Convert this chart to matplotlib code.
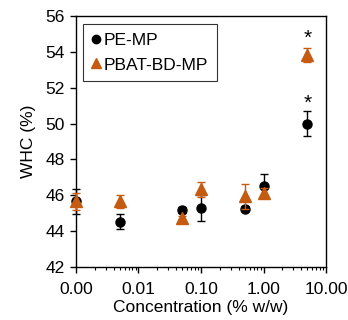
import matplotlib
matplotlib.use("Agg")
import matplotlib.pyplot as plt
from matplotlib.lines import Line2D
from matplotlib.ticker import FixedLocator, LogLocator, NullFormatter

plt.rcParams['font.family'] = ['Liberation Sans', 'DejaVu Sans']

conc = [0.001, 0.005, 0.05, 0.1, 0.5, 1.0, 5.0]
pe_mean = [45.65, 44.53, 45.18, 45.27, 45.25, 46.53, 49.98]
pe_err = [0.70, 0.40, 0.15, 0.72, 0.12, 0.67, 0.70]
pbat_mean = [45.65, 45.66, 44.73, 46.32, 45.94, 46.15, 53.82]
pbat_err = [0.50, 0.35, 0.10, 0.40, 0.70, 0.25, 0.38]
xtick_vals = [0.001, 0.01, 0.1, 1, 10]
xtick_labels = ["0.00", "0.01", "0.10", "1.00", "10.00"]
star_x = [5.0, 5.0]
star_y = [54.75, 51.15]

orange = '#C55A11'
fs = 12.5

fig = plt.figure(figsize=(3.48, 3.2), dpi=100)
ax = fig.add_axes([0.218, 0.166, 0.719, 0.784])

ax.errorbar(conc, pe_mean, yerr=pe_err, fmt='o', color='black', ms=6.5,
            ecolor='black', elinewidth=1, capsize=3, capthick=1, clip_on=False, zorder=3)
ax.errorbar(conc, pbat_mean, yerr=pbat_err, fmt='^', color=orange, ms=8,
            ecolor=orange, elinewidth=1, capsize=3, capthick=1, clip_on=False, zorder=4)

for x, y in zip(star_x, star_y):
    ax.text(x, y, '*', ha='center', va='center', fontsize=15)

ax.set_xscale('log')
ax.set_xlim(0.001, 10)
ax.set_ylim(42, 56)
ax.xaxis.set_major_locator(FixedLocator(xtick_vals))
ax.set_xticklabels(xtick_labels)
ax.xaxis.set_minor_locator(LogLocator(base=10, subs=range(2, 10), numticks=20))
ax.xaxis.set_minor_formatter(NullFormatter())
ax.set_yticks(range(42, 57, 2))

ax.tick_params(axis='both', which='major', direction='out', length=4, width=1,
               labelsize=fs, colors='black')
ax.tick_params(axis='x', which='major', pad=7)
ax.tick_params(axis='y', which='major', pad=4)
ax.tick_params(axis='x', which='minor', direction='out', length=2.5, width=0.8)
for s in ax.spines.values():
    s.set_linewidth(1)
    s.set_color('black')

ax.set_xlabel('Concentration (% w/w)', fontsize=fs, labelpad=2)
ax.set_ylabel('WHC (%)', fontsize=fs, labelpad=7)

handles = [Line2D([], [], marker='o', color='black', ls='none', ms=6),
           Line2D([], [], marker='^', color=orange, ls='none', ms=7)]
leg = ax.legend(handles, ['PE-MP', 'PBAT-BD-MP'], loc='upper left',
                bbox_to_anchor=(0.028, 0.968), borderaxespad=0, fontsize=fs,
                frameon=True, fancybox=False, edgecolor='black',
                handlelength=0.5, handletextpad=0.2, borderpad=0.5,
                labelspacing=0.55)
leg.get_frame().set_linewidth(0.8)

fig.savefig('out.png', dpi=100)
